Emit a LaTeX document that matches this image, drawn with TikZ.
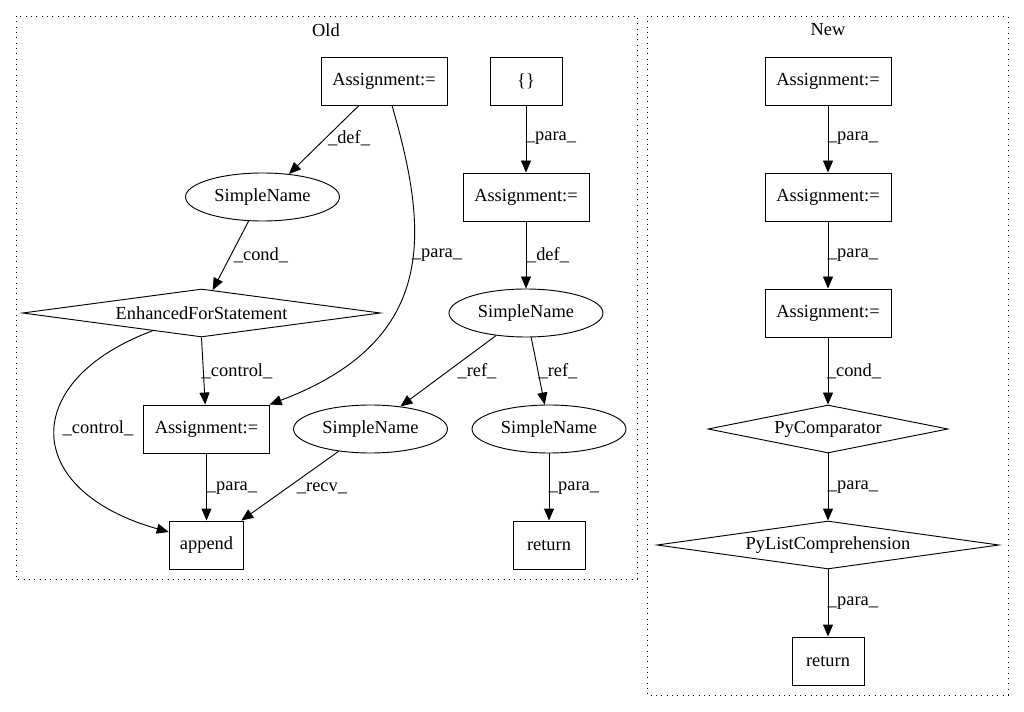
\documentclass[tikz,border=0pt]{standalone}
\usepackage{fontspec}
\setmainfont{Liberation Serif}
\usetikzlibrary{shapes.geometric,arrows.meta}
\begin{document}
\begin{tikzpicture}[x=0.75pt,y=-0.75pt,
  every node/.style={font=\fontsize{13.8}{16}\selectfont, inner sep=0pt},
  boxnode/.style={draw, line width=0.7pt, rectangle, minimum height=36pt},
  ellnode/.style={draw, line width=0.7pt, ellipse, minimum width=115.5pt, minimum height=36pt},
  dianode/.style={draw, line width=0.7pt, diamond, minimum height=36pt},
  conn/.style={draw, line width=0.7pt, -{Triangle[length=9pt,width=7.5pt]}},
  lbl/.style={font=\fontsize{13.8}{16}\selectfont},
  cluster/.style={draw, line width=0.7pt, dash pattern=on 0.8pt off 3.2pt},
]
\useasboundingbox (0,0) rectangle (1024,712);
% clusters
\draw[cluster] (16,16) rectangle (637,579);
\draw[cluster] (647,16) rectangle (1008,695);
\node (oldt) at (326,30) {Old};
\node (newt) at (828,30) {New};
% Old nodes
\node[boxnode, minimum width=94.5pt] (oa1) at (384,81) {Assignment:=};
\node[boxnode, minimum width=54pt] (obr) at (526,81) {\{\}};
\node[boxnode, minimum width=94.5pt] (oa2) at (526,197) {Assignment:=};
\node[ellnode] (osn1) at (262.5,197) {SimpleName};
\node[dianode, minimum width=268.5pt, aspect=7.46] (oefs) at (201.5,313) {EnhancedForStatement};
\node[ellnode] (osn2) at (526,313) {SimpleName};
\node[boxnode, minimum width=94pt] (oa3) at (206.5,429) {Assignment:=};
\node[ellnode] (osn3) at (370.5,429) {SimpleName};
\node[ellnode] (osn4) at (549,429) {SimpleName};
\node[boxnode, minimum width=56pt] (oapp) at (206.5,545) {append};
\node[boxnode, minimum width=54pt] (oret) at (549,545) {return};
% New nodes
\node[boxnode, minimum width=94.5pt] (na1) at (828,81) {Assignment:=};
\node[boxnode, minimum width=94.5pt] (na2) at (828,197) {Assignment:=};
\node[boxnode, minimum width=94.5pt] (na3) at (828,313) {Assignment:=};
\node[dianode, minimum width=180pt, aspect=5.1] (npc) at (828,429) {PyComparator};
\node[dianode, minimum width=256.5pt, aspect=7.3] (nplc) at (828,545) {PyListComprehension};
\node[boxnode, minimum width=54pt] (nret) at (828,661) {return};
% Old edges
\draw[conn] ([xshift=-18.75pt]oa1.south) -- (osn1.41) node[lbl] at (349,138) {\_def\_};
\draw[conn] ([xshift=6pt]oa1.south) .. controls (428,230) and (440,340) .. (oa3.north east) node[lbl] at (437,255) {\_para\_};
\draw[conn] (osn1.240) -- (oefs.64) node[lbl] at (261,255) {\_cond\_};
\draw[conn] (oefs.south) -- ([xshift=-1pt]oa3.north) node[lbl] at (237,371) {\_control\_};
\draw[conn] (oefs.200) .. controls (20,380) and (20,490) .. ([yshift=9.75pt]oapp.west) node[lbl] at (98,428) {\_control\_};
\draw[conn] (oa3.south) -- (oapp.north) node[lbl] at (232,488) {\_para\_};
\draw[conn] (osn3.215) -- ([xshift=-2.25pt]oapp.north east) node[lbl] at (322,488) {\_recv\_};
\draw[conn] (obr.south) -- (oa2.north) node[lbl] at (551,138) {\_para\_};
\draw[conn] (oa2.south) -- (osn2.north) node[lbl] at (548,255) {\_def\_};
\draw[conn] (osn2.217) -- (osn3.37) node[lbl] at (477,371) {\_ref\_};
\draw[conn] (osn2.-78) -- (osn4.100) node[lbl] at (558,371) {\_ref\_};
\draw[conn] (osn4.south) -- (oret.north) node[lbl] at (574,488) {\_para\_};
% New edges
\draw[conn] (na1.south) -- (na2.north) node[lbl] at (853,138) {\_para\_};
\draw[conn] (na2.south) -- (na3.north) node[lbl] at (853,255) {\_para\_};
\draw[conn] (na3.south) -- (npc.north) node[lbl] at (854,371) {\_cond\_};
\draw[conn] (npc.south) -- (nplc.north) node[lbl] at (853,487) {\_para\_};
\draw[conn] (nplc.south) -- (nret.north) node[lbl] at (853,603) {\_para\_};
\end{tikzpicture}
\end{document}
